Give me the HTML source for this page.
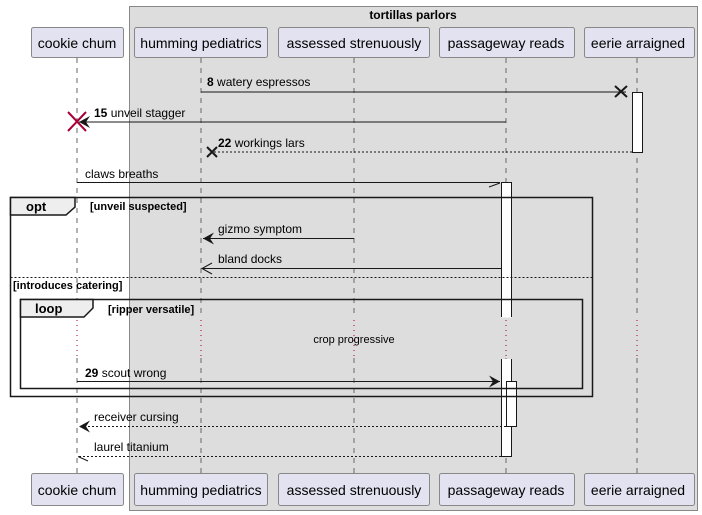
<!DOCTYPE html>
<html><head><style>
html,body{margin:0;padding:0;background:#fff;}
svg{display:block;font-family:"Liberation Sans",sans-serif;}
</style></head><body>
<svg width="702" height="515" viewBox="0 0 702 515" xmlns="http://www.w3.org/2000/svg">
<defs>
<marker id="af" markerWidth="14" markerHeight="12" refX="11" refY="6" orient="auto" markerUnits="userSpaceOnUse">
<path d="M0,0 L11,6 L0,12 L4,6 Z" fill="#181818"/></marker>
</defs>
<rect x="129.5" y="6.5" width="568" height="504" fill="#dddddd" stroke="#888" stroke-width="1"/>
<text x="413" y="19" font-size="12" font-weight="bold" text-anchor="middle" fill="#000">tortillas parlors</text>
<g stroke="#666" stroke-dasharray="5,5" stroke-width="1">
<line x1="77" y1="58" x2="77" y2="318"/><line x1="77" y1="358" x2="77" y2="473"/>
<line x1="201" y1="58" x2="201" y2="318"/><line x1="201" y1="358" x2="201" y2="473"/>
<line x1="354" y1="58" x2="354" y2="318"/><line x1="354" y1="358" x2="354" y2="473"/>
<line x1="506" y1="58" x2="506" y2="318"/><line x1="506" y1="358" x2="506" y2="473"/>
<line x1="637" y1="58" x2="637" y2="318"/><line x1="637" y1="358" x2="637" y2="473"/>
</g>
<g fill="#e2e2f0" stroke="#888" stroke-width="1">
<rect x="31.5" y="27.5" width="92" height="30" rx="2"/>
<rect x="134.5" y="27.5" width="133" height="30" rx="2"/>
<rect x="278.5" y="27.5" width="151" height="30" rx="2"/>
<rect x="439.5" y="27.5" width="135" height="30" rx="2"/>
<rect x="584.5" y="27.5" width="110" height="30" rx="2"/>
<rect x="31.5" y="473.5" width="92" height="32" rx="2"/>
<rect x="134.5" y="473.5" width="133" height="32" rx="2"/>
<rect x="278.5" y="473.5" width="151" height="32" rx="2"/>
<rect x="439.5" y="473.5" width="135" height="32" rx="2"/>
<rect x="584.5" y="473.5" width="110" height="32" rx="2"/>
</g>
<g font-size="14" fill="#000" text-anchor="middle">
<text x="77" y="48">cookie chum</text><text x="201" y="48">humming pediatrics</text><text x="354" y="48">assessed strenuously</text><text x="506" y="48">passageway reads</text><text x="638" y="48">eerie arraigned</text>
<text x="77" y="495">cookie chum</text><text x="201" y="495">humming pediatrics</text><text x="354" y="495">assessed strenuously</text><text x="506" y="495">passageway reads</text><text x="638" y="495">eerie arraigned</text>
</g>
<!-- dotted break lines -->
<g stroke="#a80036" stroke-dasharray="1,4">
<line x1="77" y1="320" x2="77" y2="358"/>
<line x1="201" y1="320" x2="201" y2="358"/>
<line x1="354" y1="320" x2="354" y2="358"/>
<line x1="506" y1="320" x2="506" y2="358"/>
<line x1="637" y1="320" x2="637" y2="358"/>
</g>
<!-- activations -->
<rect x="632.5" y="92.5" width="10" height="60" fill="#fff" stroke="#181818"/>
<rect x="501.5" y="182.5" width="10" height="135" fill="#fff" stroke="none"/>
<path d="M501.5,317 L501.5,182.5 L511.5,182.5 L511.5,317" fill="none" stroke="#181818"/>
<rect x="501.5" y="359" width="10" height="97.5" fill="#fff" stroke="none"/>
<path d="M501.5,359 L501.5,456.5 L511.5,456.5 L511.5,359" fill="none" stroke="#181818"/>
<rect x="506.5" y="381.5" width="10" height="45" fill="#fff" stroke="#181818"/>
<!-- messages -->
<g stroke="#181818" stroke-width="1" fill="none">
<line x1="201" y1="92" x2="626" y2="92"/>
<path d="M615,86 L627,97 M615,97 L627,86" stroke-width="2"/>
<line x1="506" y1="122" x2="79" y2="122" marker-end="url(#af)"/>
<path d="M68,112 L86,131 M68,131 L86,112" stroke="#a80036" stroke-width="2"/>
<line x1="632" y1="152" x2="212" y2="152" stroke-dasharray="2,2"/>
<path d="M207,147 L217,157 M207,157 L217,147" stroke-width="2"/>
<line x1="77" y1="182.5" x2="500" y2="182.5"/>
<path d="M489,187 L500,183"/>
<line x1="354" y1="238.5" x2="203" y2="238.5" marker-end="url(#af)"/>
<line x1="501" y1="268.5" x2="202" y2="268.5"/>
<path d="M212,263 L202,268.5 L212,274"/>
<line x1="77" y1="381.5" x2="500" y2="381.5" marker-end="url(#af)"/>
<line x1="506" y1="426.5" x2="79" y2="426.5" stroke-dasharray="2,2" marker-end="url(#af)"/>
<line x1="501" y1="456.5" x2="78" y2="456.5" stroke-dasharray="2,2"/>
<path d="M78,456.5 L88,461"/>
</g>
<g font-size="12" fill="#000">
<text x="207" y="86"><tspan font-weight="bold">8</tspan> watery espressos</text>
<text x="94" y="117"><tspan font-weight="bold">15</tspan> unveil stagger</text>
<text x="218" y="147"><tspan font-weight="bold">22</tspan> workings lars</text>
<text x="85" y="178">claws breaths</text>
<text x="218" y="233">gizmo symptom</text>
<text x="218" y="263">bland docks</text>
<text x="85" y="377"><tspan font-weight="bold">29</tspan> scout wrong</text>
<text x="94" y="421">receiver cursing</text>
<text x="94" y="451">laurel titanium</text>
<text x="354" y="343" font-size="11" text-anchor="middle">crop progressive</text>
</g>
<!-- frames -->
<g stroke="#181818" fill="none">
<rect x="10.5" y="197.5" width="582" height="199" stroke-width="1.5"/>
<path d="M10.5,197.5 L75,197.5 L75,207 L66,215 L10.5,215 Z" fill="#eeeeee" stroke-width="1.5"/>
<line x1="10.5" y1="277.5" x2="592.5" y2="277.5" stroke-dasharray="2,2" stroke-width="1"/>
<rect x="20.5" y="299.5" width="562" height="89" stroke-width="1.5"/>
<path d="M20.5,299.5 L93,299.5 L93,308 L84,317 L20.5,317 Z" fill="#eeeeee" stroke-width="1.5"/>
</g>
<g font-size="11" font-weight="bold" fill="#000">
<text x="26" y="211" font-size="13">opt</text>
<text x="90" y="210">[unveil suspected]</text>
<text x="13" y="289">[introduces catering]</text>
<text x="35" y="313" font-size="13">loop</text>
<text x="108" y="313">[ripper versatile]</text>
</g>
</svg>
</body></html>
